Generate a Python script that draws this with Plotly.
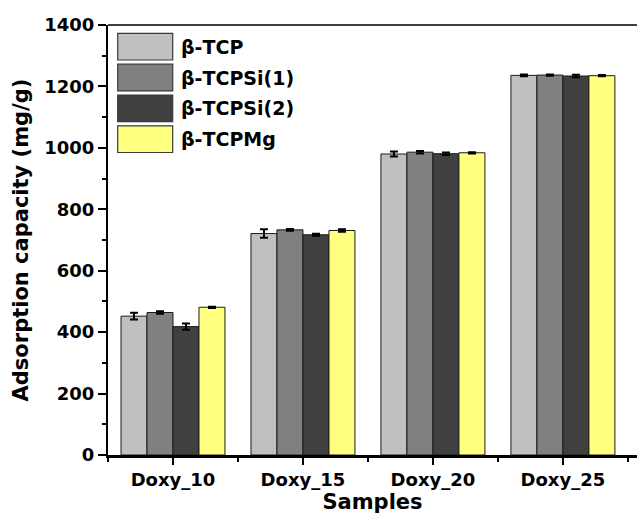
import plotly.graph_objects as go

categories = ["Doxy_10", "Doxy_15", "Doxy_20", "Doxy_25"]
series_names = ["β-TCP", "β-TCPSi(1)", "β-TCPSi(2)", "β-TCPMg"]
tcp = [452, 721, 980, 1236]
tcpsi1 = [464, 733, 986, 1237]
tcpsi2 = [418, 717, 981, 1234]
tcpmg = [481, 731, 984, 1235]
err_tcp = [11, 14, 8, 3]
err_tcpsi1 = [4, 3, 4, 2]
err_tcpsi2 = [10, 3, 4, 4]
err_tcpmg = [2, 4, 2, 2]
colors = ["#C0C0C0", "#808080", "#404040", "#FFFF80"]

values = [tcp, tcpsi1, tcpsi2, tcpmg]
errors = [err_tcp, err_tcpsi1, err_tcpsi2, err_tcpmg]
xpos = list(range(len(categories)))

FONT = "DejaVu Sans, Arial, sans-serif"

fig = go.Figure()
for name, vals, errs, col in zip(series_names, values, errors, colors):
    fig.add_trace(go.Bar(
        x=xpos, y=vals, name=name,
        marker=dict(color=col, line=dict(color="#1a1a1a", width=1)),
        error_y=dict(type="data", array=errs, visible=True, color="black",
                     thickness=2, width=4),
        showlegend=False,
    ))

# manual legend with large swatches
sw_x0, sw_x1 = 117.7, 172.7
row_top = [33.3, 64.2, 95.0, 125.8]
sw_h = 26.7
W, H = 637, 514
ml, mt, mb, mr = 108, 25, 59, 0
pw, ph = W - ml - mr, H - mt - mb

def px_to_paper_x(px):
    return (px - ml) / pw

def px_to_paper_y(py):
    return 1 - (py - mt) / ph

for name, col, top in zip(series_names, colors, row_top):
    fig.add_shape(type="rect", xref="paper", yref="paper",
                  x0=px_to_paper_x(sw_x0), x1=px_to_paper_x(sw_x1),
                  y0=px_to_paper_y(top + sw_h), y1=px_to_paper_y(top),
                  fillcolor=col, line=dict(color="#3a3a3a", width=1.2))
    fig.add_annotation(xref="paper", yref="paper",
                       x=px_to_paper_x(179), y=px_to_paper_y(top + sw_h / 2),
                       text="<b>" + name + "</b>", showarrow=False,
                       xanchor="left", yanchor="middle",
                       font=dict(family=FONT, size=19, color="black"))

fig.update_layout(
    width=W, height=H,
    margin=dict(l=ml, r=mr, t=mt, b=mb),
    paper_bgcolor="white", plot_bgcolor="white",
    barmode="group", bargap=0.2, bargroupgap=0,
    font=dict(family=FONT, color="black"),
    showlegend=False,
)
fig.update_xaxes(
    range=[-0.5, 3.57],
    tickvals=xpos, ticktext=["<b>" + c + "</b>" for c in categories],
    showline=True, linecolor="black", linewidth=2.5,
    ticks="outside", ticklen=7, tickwidth=1.5, tickcolor="black",
    tickfont=dict(family=FONT, size=18, color="black"),
    title=dict(text="<b>Samples</b>", font=dict(family=FONT, size=21, color="black"), standoff=5),
    automargin=False, showgrid=False, zeroline=False,
    minor=dict(ticks="outside", ticklen=4, tickcolor="black", tickwidth=1.5,
               tick0=0.5, dtick=1, showgrid=False),
)
fig.update_yaxes(
    range=[0, 1400], dtick=200,
    showline=True, linecolor="black", linewidth=2,
    ticks="outside", ticklen=8, tickwidth=2, tickcolor="black",
    tickfont=dict(family=FONT, size=18, color="black", weight="bold"),
    title=dict(text="<b>Adsorption capacity (mg/g)</b>", font=dict(family=FONT, size=21, color="black"), standoff=10),
    automargin=False, showgrid=False, zeroline=False,
    minor=dict(ticks="outside", ticklen=4, tickcolor="black", tickwidth=1.5, dtick=100, showgrid=False),
)
# top frame line
fig.add_shape(type="line", xref="paper", yref="paper", x0=0, x1=1, y0=1, y1=1,
              line=dict(color="black", width=1.5))

fig.write_html("out.html")
